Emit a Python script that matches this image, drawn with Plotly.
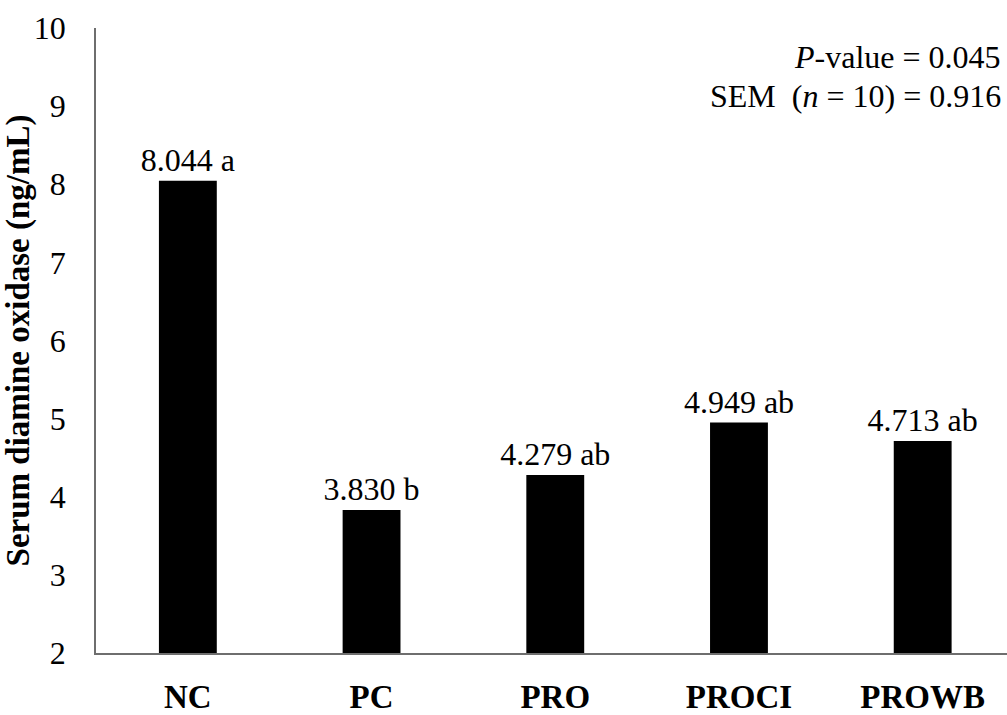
import plotly.graph_objects as go

# Serum diamine oxidase by treatment group
groups = ["NC", "PC", "PRO", "PROCI", "PROWB"]
dao_means = [8.044, 3.830, 4.279, 4.949, 4.713]
sig_letters = ["a", "b", "ab", "ab", "ab"]
y_ticks = [2, 3, 4, 5, 6, 7, 8, 9, 10]

bar_labels = [f"{v:.3f} {s}" for v, s in zip(dao_means, sig_letters)]

serif = "Liberation Serif, Times New Roman, serif"

fig = go.Figure(
    go.Bar(
        x=groups,
        y=dao_means,
        text=bar_labels,
        textposition="outside",
        constraintext="none",
        textfont=dict(family=serif, size=32, color="black"),
        marker=dict(color="black", line=dict(width=0)),
        width=0.315,
        cliponaxis=False,
    )
)

fig.update_layout(
    width=1007,
    height=715,
    margin=dict(l=96, r=0, t=28, b=55),
    plot_bgcolor="white",
    paper_bgcolor="white",
    showlegend=False,
    uniformtext=dict(mode=False),
    font=dict(family=serif, color="black"),
    xaxis=dict(
        range=[-0.5, 4.459],
        showline=True,
        linecolor="#6e6e6e",
        linewidth=1.5,
        ticks="",
        showgrid=False,
        tickfont=dict(family=serif, size=33, color="black", weight="bold"),
        ticklabelstandoff=14,
    ),
    yaxis=dict(
        range=[2, 10],
        tickvals=y_ticks,
        showline=True,
        linecolor="#6e6e6e",
        linewidth=1.5,
        ticks="",
        showgrid=False,
        zeroline=False,
        tickfont=dict(family=serif, size=32, color="black"),
        ticklabelstandoff=22,
        title=dict(
            text="<b>Serum diamine oxidase (ng/mL)</b>",
            font=dict(family=serif, size=33, color="black"),
            standoff=0,
        ),
    ),
    annotations=[
        dict(
            text="<i>P</i>-value = 0.045",
            xref="paper", yref="paper",
            x=0.996, y=0.953,
            xanchor="right", yanchor="middle",
            showarrow=False,
            font=dict(family=serif, size=32, color="black"),
        ),
        dict(
            text="SEM\u00a0\u00a0(<i>n</i> = 10) = 0.916",
            xref="paper", yref="paper",
            x=0.996, y=0.891,
            xanchor="right", yanchor="middle",
            showarrow=False,
            font=dict(family=serif, size=32, color="black"),
        ),
    ],
)

fig.write_html("out.html")
